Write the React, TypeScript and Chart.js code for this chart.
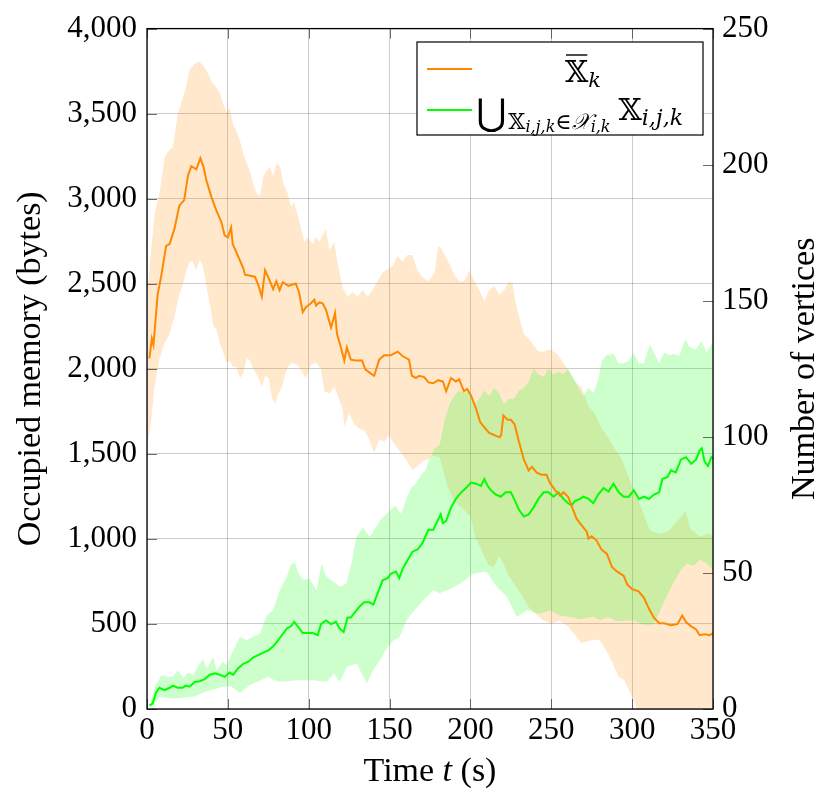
import React, { useEffect, useRef } from 'react';
import { Chart, registerables } from 'chart.js';

Chart.register(...registerables);

// ---- data (time in s, value) ----
const timeTicks = [0, 50, 100, 150, 200, 250, 300, 350];
const memoryTicks = [0, 500, 1000, 1500, 2000, 2500, 3000, 3500, 4000];
const vertexTicks = [0, 50, 100, 150, 200, 250];

const memMean: [number, number][] = [
  [1.5, 2062], [3, 2178], [4, 2140], [6.6, 2437], [8.7, 2540], [11.8, 2721], [14, 2734], [17, 2824], [20, 2959], [23, 2992],
  [25.3, 3134], [27.4, 3191], [30.5, 3173], [33, 3238], [35, 3186], [36.7, 3108], [40, 3005], [43, 2928], [46, 2863], [48, 2785],
  [50, 2773], [52, 2830], [53, 2734], [56, 2669], [59.5, 2592], [60.6, 2553], [64.7, 2545], [66.8, 2540], [69, 2488], [71, 2424],
  [73, 2580], [75.5, 2527], [78, 2468], [80, 2514], [82, 2462], [84, 2509], [87.5, 2488], [92, 2501], [94, 2450], [96.3, 2333],
  [98.4, 2364], [101.4, 2385], [103.5, 2406], [104.5, 2372], [106.6, 2390], [108.6, 2385], [110.7, 2346], [113.8, 2243], [116.3, 2328], [117.5, 2204],
  [119.5, 2140], [122, 2049], [123.6, 2127], [126, 2054], [129, 2049], [133, 2049], [135, 1997], [138.5, 1972], [140.5, 1959], [143.6, 2054],
  [146.7, 2080], [150.8, 2080], [155, 2101], [158, 2075], [162, 2054], [163.8, 1959], [166.3, 1946], [168.3, 1959], [171.4, 1951], [174, 1920],
  [177, 1915], [180, 1933], [183, 1925], [185, 1868], [188, 1946], [191, 1925], [193, 1938], [196, 1868], [198, 1881], [200.4, 1842],
  [203.5, 1765], [206, 1687], [208.6, 1656], [211.6, 1623], [218, 1597], [219, 1610], [220.4, 1726], [223, 1700], [225, 1700], [227.3, 1674],
  [230, 1571], [233, 1468], [236, 1403], [238, 1424], [241, 1390], [244, 1377], [247, 1377], [249.4, 1325], [252.4, 1287], [255.5, 1253],
  [257.5, 1274], [260.4, 1248], [262.5, 1196], [265.6, 1119], [268.8, 1080], [272, 1041], [273, 1002], [275, 1015], [278, 990], [281, 938],
  [284.4, 912], [287.5, 835], [290.6, 809], [294.8, 783], [297, 731], [300, 705], [304, 692], [307.3, 654], [310.4, 589], [313.5, 537],
  [316.7, 504], [319.8, 504], [324, 493], [328, 499], [331, 550], [333.3, 511], [336.5, 486], [339.6, 468], [341.7, 434], [344.8, 439],
  [348, 434], [350, 447],
];

const memUpper: [number, number][] = [
  [0.4, 2462], [2.5, 2695], [4.6, 2902], [7.7, 3031], [10.8, 3238], [12.9, 3277], [16, 3302], [19, 3496], [22, 3587], [24, 3651],
  [26.3, 3755], [29.5, 3793], [32.6, 3806], [34.6, 3780], [36.7, 3755], [39.8, 3690], [43, 3651], [45, 3625], [47, 3561], [49, 3509],
  [51, 3535], [53.3, 3432], [55.4, 3393], [57.5, 3341], [59.5, 3264], [61.6, 3212], [63.7, 3160], [65.8, 3083], [67.8, 3031], [70, 3018],
  [72, 3134], [74, 3165], [76, 3186], [78, 3134], [80.3, 3212], [82.4, 3186], [84.4, 3083], [87, 3031], [89, 2953], [91, 2979],
  [93.2, 2902], [95.3, 2824], [97.3, 2747], [99.4, 2773], [102.5, 2734], [104.5, 2773], [106.6, 2747], [108.6, 2786], [110.7, 2824], [112.8, 2695],
  [115.8, 2747], [117.9, 2618], [121, 2476], [124, 2424], [127.2, 2450], [130.3, 2424], [133.3, 2462], [136.4, 2424], [139.5, 2462], [142.6, 2514],
  [145.7, 2566], [148.8, 2584], [151.9, 2605], [155, 2664], [158, 2630], [161, 2669], [164.2, 2669], [167.3, 2579], [170.4, 2540], [174, 2514],
  [178, 2566], [180, 2721], [182, 2708], [184, 2669], [187, 2618], [190, 2553], [193, 2514], [196, 2514], [199.4, 2579], [202.4, 2514],
  [205.5, 2462], [208.6, 2398], [211.6, 2462], [214.7, 2488], [217.7, 2437], [220.8, 2462], [223.9, 2514], [226, 2501], [228, 2385], [230, 2307],
  [233, 2204], [236, 2178], [239, 2140], [242, 2101], [245.3, 2101], [249.4, 2114], [253.4, 2088], [256.5, 2049], [260, 2000], [264, 1930],
  [268.8, 1890], [273, 1780], [277, 1735], [281, 1650], [285, 1597], [289, 1535], [293, 1480], [297, 1384], [301, 1283], [305, 1200],
  [311, 1050], [317, 1030], [323, 1050], [330, 1128], [333, 1166], [336, 1060], [342, 1011], [346, 1030], [350, 1021],
];

const memLower: [number, number][] = [
  [0.4, 1558], [2.5, 1687], [4.6, 1894], [7.7, 2060], [10.8, 2150], [14, 2204], [17, 2307], [20, 2437], [22, 2488], [24, 2566],
  [26.3, 2630], [28.4, 2630], [30.5, 2579], [32.6, 2643], [34.6, 2605], [36.7, 2488], [38.8, 2385], [40.9, 2256], [43, 2230], [45, 2152],
  [47, 2101], [49, 2036], [51, 2049], [53.3, 2010], [55.4, 2010], [57.5, 1946], [59.5, 1972], [61.6, 2062], [63.7, 2049], [65.8, 1997],
  [69, 1946], [71, 1894], [73, 1959], [75.3, 1946], [77.3, 1829], [79.3, 1791], [81.3, 1855], [83.4, 1894], [85.5, 1972], [88, 2023],
  [90, 2036], [93.2, 2023], [96.3, 1972], [98.4, 1946], [101.4, 2023], [104.5, 2036], [107.6, 1997], [109.7, 1868], [112.8, 1855], [115.8, 1894],
  [117.9, 1842], [121, 1765], [122, 1661], [125, 1739], [128.2, 1674], [131.3, 1648], [134.4, 1636], [137.5, 1584], [140.5, 1506], [143.6, 1584],
  [146.7, 1571], [149.8, 1610], [151.9, 1571], [155, 1532], [158, 1494], [161, 1455], [164.2, 1403], [167.3, 1429], [170.4, 1455], [174, 1468],
  [177, 1490], [181, 1480], [186, 1300], [190, 1220], [195, 1180], [200, 1130], [203, 1010], [207, 930], [211, 850], [214, 830],
  [218, 900], [221, 840], [224, 780], [228, 720], [231, 680], [236, 600], [240, 560], [245, 520], [250, 500], [255, 520],
  [260.5, 483], [265, 430], [268.8, 387], [273, 400], [277, 407], [280, 405], [285, 328], [288, 268], [291.5, 190], [295, 170],
  [301, 53], [305, -60], [312, -150], [320, -200], [330, -150], [340, -100], [350, -100],
];

const vertMean: [number, number][] = [
  [1.5, 1.3], [3.5, 2], [5.6, 6.1], [7.7, 7.8], [10.8, 6.9], [14, 7.8], [16, 8.6], [19, 7.8], [22, 7.8], [24, 8.6],
  [26.3, 8.2], [29.5, 9.9], [32.6, 10.2], [35.7, 11], [38.8, 12.6], [42, 13.1], [45, 12.6], [48, 11.8], [51, 13.4], [53.3, 12.6],
  [56.4, 15], [59.5, 16.6], [62.7, 17.4], [65.8, 19], [69, 19.9], [72, 20.7], [75, 21.5], [78.2, 23.1], [80.3, 24.7], [83.4, 27.1],
  [86.5, 29.6], [89, 30.4], [91, 32], [93.2, 30.4], [96.3, 27.9], [99.4, 27.9], [102.5, 27.9], [105.6, 27.1], [107.6, 31.2], [110.7, 32.5],
  [113.8, 31.2], [116.9, 32], [119, 29.6], [121.6, 28.3], [124, 33.6], [126, 33.6], [128.2, 35.2], [131.3, 37.6], [134.4, 39.2], [137.5, 39.2],
  [140, 38.4], [142.6, 42.5], [145.7, 47.3], [148.8, 48.1], [150.8, 49.7], [153.9, 50.5], [156, 48.1], [158, 51.4], [161, 54.6], [164.2, 57.8],
  [167.3, 58.6], [170.4, 61], [174, 65.9], [177, 65.9], [179, 68.3], [181.6, 71.5], [183, 68.3], [185, 69.1], [188, 74], [191, 77.2],
  [194.3, 79.6], [197.3, 81.2], [200.4, 83.2], [203.5, 82.8], [206.5, 82], [208.6, 84.5], [210.6, 82], [212.6, 80.4], [215.7, 78.8], [218.8, 78],
  [221.8, 79.6], [225, 79.6], [227, 77.2], [230, 73.2], [233, 70.7], [236, 71.5], [239, 74], [242, 77.2], [245.3, 79.6], [248.3, 79.6],
  [251.4, 78], [254.5, 79.6], [257.5, 77.2], [260.4, 75.6], [262.5, 74.8], [264.6, 76.4], [267.7, 77.2], [269.8, 78], [273, 77.2], [276, 75.6],
  [279, 78.8], [282.3, 81.2], [285.4, 79.9], [288.5, 82.8], [291.7, 79.6], [294.8, 78], [298, 78], [301, 80.4], [304.2, 77.2], [307.3, 78],
  [310.4, 77.2], [313.5, 78.8], [316.7, 79.6], [318.7, 84.5], [321.9, 85.3], [324, 87.7], [327, 86.9], [330.2, 91.7], [333.3, 92.5], [336.5, 90.1],
  [339.6, 91.7], [341.7, 95], [343.1, 95.8], [344.8, 90.9], [346.9, 89.3], [349, 92.5], [350, 92],
];

const vertUpper: [number, number][] = [
  [1.8, 1.2], [4.8, 8.1], [9, 12.5], [12.9, 11.8], [16.3, 11.9], [19, 14.2], [22.5, 11.3], [25.3, 13.4], [28.7, 12.5], [31.5, 15.8],
  [34.6, 18.2], [36.9, 15], [41, 19], [43, 14.3], [47, 17.4], [49.2, 16.2], [53.4, 21.6], [57.5, 26.5], [61.6, 25.3], [64.7, 26.3],
  [69.9, 27.7], [74, 34.4], [78, 36.3], [82.1, 43.6], [86.3, 48.5], [89, 53], [91.4, 54], [93.2, 50.5], [96.6, 47.3], [100.7, 47.9],
  [104.8, 43.6], [107.9, 53.4], [110.7, 48.9], [114, 47.3], [119.2, 44.9], [123.3, 46], [126, 52.2], [129.5, 63.2], [133.6, 66.8], [137.7, 63.2],
  [141.6, 66.7], [143.9, 69.3], [147.7, 71.5], [150.8, 73.2], [153.9, 74.8], [157, 71.5], [160, 76.4], [163.2, 81.2], [166.3, 82.8], [169.4, 86.1],
  [172.4, 87.7], [174, 90.9], [178, 95.8], [181, 97], [184, 106], [187, 112], [190, 115], [193, 117], [196, 116], [199.4, 117],
  [202.4, 112], [205.5, 114], [208.6, 117], [211.6, 115], [214.7, 118], [217.7, 116], [220.8, 112], [223.9, 114], [227, 114], [230, 117],
  [233, 118], [236, 120], [239, 125], [242, 123], [245.3, 122], [248.3, 125], [251.4, 123], [254.5, 124], [257.5, 123], [260.4, 125],
  [263.5, 122], [266.7, 118], [269.8, 115], [273, 118], [276, 116], [279, 121], [281.3, 128], [284, 130], [288.5, 130.5], [291.7, 127],
  [294.8, 127], [298, 128], [301, 131], [304.2, 127], [307.3, 127], [311, 134], [313.5, 131], [316.7, 127], [319.8, 131], [323, 130],
  [326, 130.5], [329.2, 129.7], [333, 136], [335.4, 133], [339, 132], [343, 135], [346, 131], [350, 135],
];

const vertLower: [number, number][] = [
  [1.8, 0.4], [5, 2], [8, 4.4], [16.3, 3.8], [28.6, 4.5], [36.9, 6.5], [47.2, 8.2], [52, 8.4], [57.5, 5.9], [63.7, 8.8],
  [70, 10.5], [75, 11.8], [80, 10.2], [84.3, 10], [92.5, 10.6], [102.9, 10.6], [111.1, 10], [115.5, 13], [119.4, 10], [123.5, 15.5],
  [129.7, 16.7], [135.9, 9.4], [140, 14.4], [144.1, 17.9], [148, 22], [152.4, 25.2], [156, 26.3], [160.6, 32.6], [165, 36], [170.9, 40],
  [177, 43.6], [181, 42.5], [187, 44], [193.5, 46], [201.8, 49.8], [210, 50.4], [216.3, 44.9], [222.5, 41.2], [228.7, 33.8], [234.9, 36.3],
  [243, 35], [249.3, 36.3], [255, 34.4], [260, 34], [268, 33], [276, 34], [280, 32.6], [285, 33.8], [290.5, 32.2], [300.8, 32.6],
  [307, 31], [313, 31], [317, 35.7], [321, 41], [325, 45.7], [330, 51], [334, 53.5], [338, 52.5], [342, 54.8], [346, 53.5],
  [350, 51],
];

const ORANGE = 'rgb(255,136,0)';
const GREEN = 'rgb(0,255,0)';
const ORANGE_FILL = 'rgba(255,140,0,0.2)';
const GREEN_FILL = 'rgba(0,255,0,0.2)';
const SERIF = '"Liberation Serif", "DejaVu Serif", serif';
const MATH = '"DejaVu Serif", "DejaVu Sans", serif';
const TITLE_SIZE = 34;

const toXY = (a: [number, number][]) => a.map(([x, y]) => ({ x, y }));

type Run = { t: string; font: string; dy?: number; dx?: number };
function drawRuns(ctx: CanvasRenderingContext2D, x: number, y: number, runs: Run[]) {
  for (const r of runs) {
    ctx.font = r.font;
    ctx.fillText(r.t, x, y + (r.dy || 0));
    x += ctx.measureText(r.t).width + (r.dx || 0);
  }
  return x;
}

const decorPlugin = {
  id: 'decor',
  afterDraw(chart: any) {
    const ctx: CanvasRenderingContext2D = chart.ctx;
    const a = chart.chartArea;
    const xs = chart.scales.x;
    const ys = chart.scales.y;
    const y1 = chart.scales.y1;
    ctx.save();
    // inward tick marks
    ctx.strokeStyle = 'rgba(60,60,60,0.75)';
    ctx.lineWidth = 1;
    ctx.beginPath();
    for (const v of timeTicks) {
      const px = Math.round(xs.getPixelForValue(v)) + 0.5;
      ctx.moveTo(px, a.bottom); ctx.lineTo(px, a.bottom - 10);
      ctx.moveTo(px, a.top); ctx.lineTo(px, a.top + 10);
    }
    for (const v of memoryTicks) {
      const py = Math.round(ys.getPixelForValue(v)) + 0.5;
      ctx.moveTo(a.left, py); ctx.lineTo(a.left + 10, py);
    }
    for (const v of vertexTicks) {
      const py = Math.round(y1.getPixelForValue(v)) + 0.5;
      ctx.moveTo(a.right, py); ctx.lineTo(a.right - 10, py);
    }
    ctx.stroke();
    // frame
    ctx.strokeStyle = '#000';
    ctx.lineWidth = 1.3;
    ctx.strokeRect(a.left, a.top, a.right - a.left, a.bottom - a.top);

    // axis titles
    ctx.fillStyle = '#000';
    ctx.textBaseline = 'middle';
    ctx.textAlign = 'center';
    ctx.font = `${TITLE_SIZE}px ${SERIF}`;
    ctx.save();
    ctx.translate(31, (a.top + a.bottom) / 2);
    ctx.rotate(-Math.PI / 2);
    ctx.fillText('Occupied memory (bytes)', 0, 0);
    ctx.restore();
    ctx.save();
    ctx.translate(805, (a.top + a.bottom) / 2);
    ctx.rotate(-Math.PI / 2);
    ctx.fillText('Number of vertices', 0, 0);
    ctx.restore();
    // x title with italic t
    ctx.textAlign = 'left';
    ctx.textBaseline = 'alphabetic';
    const parts: Run[] = [
      { t: 'Time ', font: `${TITLE_SIZE}px ${SERIF}` },
      { t: 't', font: `italic ${TITLE_SIZE}px ${SERIF}` },
      { t: ' (s)', font: `${TITLE_SIZE}px ${SERIF}` },
    ];
    let w = 0;
    for (const p of parts) { ctx.font = p.font; w += ctx.measureText(p.t).width; }
    drawRuns(ctx, (a.left + a.right) / 2 - w / 2, 781, parts);

    // legend
    const lx = 417, ly = 42, lw = 286, lh = 93;
    ctx.fillStyle = '#fff';
    ctx.fillRect(lx, ly, lw, lh);
    ctx.strokeStyle = '#000';
    ctx.lineWidth = 1.2;
    ctx.strokeRect(lx, ly, lw, lh);
    ctx.lineWidth = 2;
    ctx.strokeStyle = ORANGE;
    ctx.beginPath(); ctx.moveTo(427, 69); ctx.lineTo(472, 69); ctx.stroke();
    ctx.strokeStyle = GREEN;
    ctx.beginPath(); ctx.moveTo(427, 110); ctx.lineTo(472, 110); ctx.stroke();

    ctx.fillStyle = '#000';
    // row 1: overline X_k
    ctx.font = `30px ${MATH}`;
    const xw = ctx.measureText('𝕏').width;
    const r1x = 565;
    drawRuns(ctx, r1x, 82, [
      { t: '𝕏', font: `30px ${MATH}` },
      { t: 'k', font: `italic 21px ${MATH}`, dy: 5 },
    ]);
    ctx.strokeStyle = '#000';
    ctx.lineWidth = 1.4;
    ctx.beginPath(); ctx.moveTo(r1x + 1, 55); ctx.lineTo(r1x + xw - 1, 55); ctx.stroke();

    // row 2: big union with subscript
    let x2 = drawRuns(ctx, 476, 125, [{ t: '⋃', font: `37px ${MATH}`, dx: 2 }]);
    x2 = drawRuns(ctx, x2, 129, [
      { t: '𝕏', font: `22px ${MATH}` },
      { t: 'i,j,k', font: `italic 16px ${MATH}`, dy: 3 },
      { t: '∈', font: `22px ${MATH}` },
      { t: '𝒳', font: `italic 22px ${MATH}` },
      { t: 'i,k', font: `italic 16px ${MATH}`, dy: 3 },
    ]);
    drawRuns(ctx, x2 + 8, 120, [
      { t: '𝕏', font: `30px ${MATH}` },
      { t: 'i,j,k', font: `italic 22px ${MATH}`, dy: 5 },
    ]);
    ctx.restore();
  },
};

export default function App() {
  const ref = useRef<HTMLCanvasElement | null>(null);
  useEffect(() => {
    const canvas = ref.current;
    if (!canvas) return;
    const chart = new Chart(canvas, {
      type: 'line',
      data: {
        datasets: [
          { label: 'memMean', data: toXY(memMean), yAxisID: 'y', borderColor: ORANGE, borderWidth: 2, pointRadius: 0, fill: false, tension: 0 },
          { label: 'vertMean', data: toXY(vertMean), yAxisID: 'y1', borderColor: GREEN, borderWidth: 2, pointRadius: 0, fill: false, tension: 0 },
          { label: 'vertUpper', data: toXY(vertUpper), yAxisID: 'y1', borderColor: 'rgba(0,0,0,0)', borderWidth: 0, pointRadius: 0, fill: 3, backgroundColor: GREEN_FILL },
          { label: 'vertLower', data: toXY(vertLower), yAxisID: 'y1', borderColor: 'rgba(0,0,0,0)', borderWidth: 0, pointRadius: 0, fill: false },
          { label: 'memUpper', data: toXY(memUpper), yAxisID: 'y', borderColor: 'rgba(0,0,0,0)', borderWidth: 0, pointRadius: 0, fill: 5, backgroundColor: ORANGE_FILL },
          { label: 'memLower', data: toXY(memLower), yAxisID: 'y', borderColor: 'rgba(0,0,0,0)', borderWidth: 0, pointRadius: 0, fill: false },
        ] as any,
      },
      options: {
        responsive: false,
        animation: false,
        events: [],
        layout: { padding: { top: 27, left: 0, right: 0, bottom: 0 } },
        plugins: {
          legend: { display: false },
          tooltip: { enabled: false },
          filler: { drawTime: 'beforeDatasetsDraw' },
        } as any,
        scales: {
          x: {
            type: 'linear',
            min: 0,
            max: 350,
            afterBuildTicks: (s: any) => { s.ticks = timeTicks.map((v) => ({ value: v })); },
            afterFit: (s: any) => { s.height = 80; },
            ticks: { font: { family: SERIF, size: 31 }, color: '#000', padding: 3, maxRotation: 0, autoSkip: false },
            grid: { color: 'rgba(0,0,0,0.2)', drawTicks: false },
            border: { display: false },
          },
          y: {
            type: 'linear',
            position: 'left',
            min: 0,
            max: 4000,
            afterBuildTicks: (s: any) => { s.ticks = memoryTicks.map((v) => ({ value: v })); },
            afterFit: (s: any) => { s.width = 147; },
            ticks: {
              font: { family: SERIF, size: 31 },
              color: '#000',
              padding: 10,
              autoSkip: false,
              callback: (v: any) => Number(v).toLocaleString('en-US'),
            },
            grid: { color: 'rgba(0,0,0,0.2)', drawTicks: false },
            border: { display: false },
          },
          y1: {
            type: 'linear',
            position: 'right',
            min: 0,
            max: 250,
            afterBuildTicks: (s: any) => { s.ticks = vertexTicks.map((v) => ({ value: v })); },
            afterFit: (s: any) => { s.width = 108; },
            ticks: { font: { family: SERIF, size: 31 }, color: '#000', padding: 9, autoSkip: false },
            grid: { display: false, drawTicks: false },
            border: { display: false },
          },
        },
      } as any,
      plugins: [decorPlugin],
    });
    return () => chart.destroy();
  }, []);
  return (
    <canvas
      ref={ref}
      width={821}
      height={789}
      style={{ position: 'absolute', left: 0, top: 0, display: 'block' }}
    />
  );
}
